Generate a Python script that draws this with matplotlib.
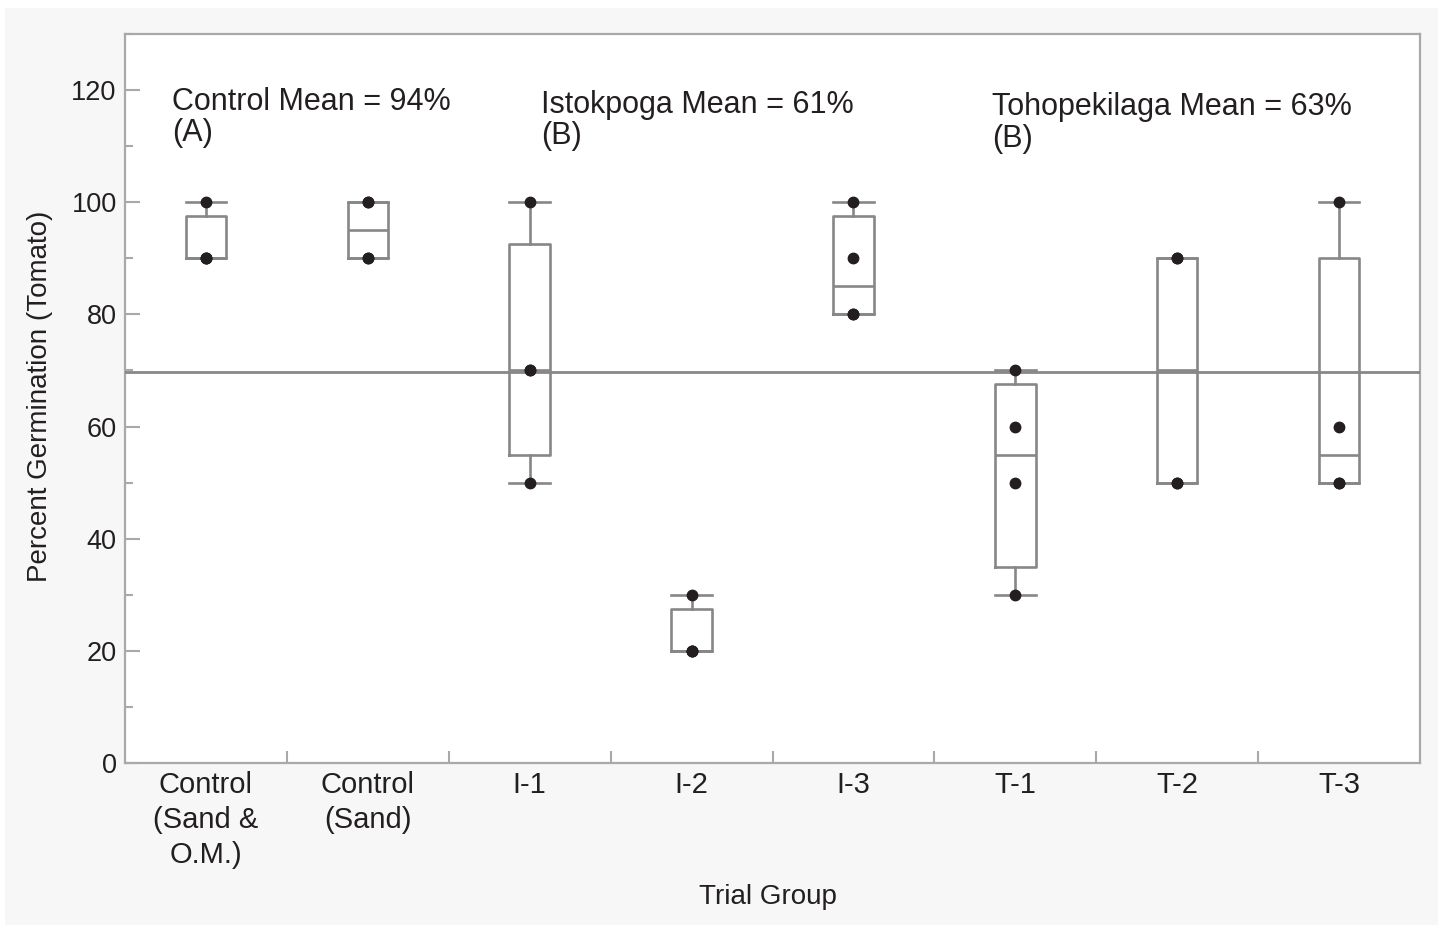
import numpy as np
import matplotlib
matplotlib.use("Agg")
from matplotlib import pyplot as plt
from matplotlib.patches import Rectangle

# germination percentages per trial (4 replicates each)
groups = ["Control\n(Sand &\nO.M.)", "Control\n(Sand)", "I-1", "I-2", "I-3", "T-1", "T-2", "T-3"]
ctrl_om = [90, 90, 90, 100]
ctrl_sand = [90, 90, 100, 100]
i_1 = [50, 70, 70, 100]
i_2 = [20, 20, 20, 30]
i_3 = [80, 80, 90, 100]
t_1 = [30, 50, 60, 70]
t_2 = [50, 50, 90, 90]
t_3 = [50, 50, 60, 100]
data = [ctrl_om, ctrl_sand, i_1, i_2, i_3, t_1, t_2, t_3]

notes = ["Control Mean = 94%\n(A)", "Istokpoga Mean = 61%\n(B)", "Tohopekilaga Mean = 63%\n(B)"]
note_x = [-0.21, 2.07, 4.855]
note_y = [120.6, 120.1, 119.6]

plt.rcParams["font.family"] = ["Liberation Sans", "DejaVu Sans"]
txt = "#231f20"
line_c = "#878787"
spine_c = "#a9a9a9"

fig = plt.figure(figsize=(14.43, 9.27), dpi=100, facecolor="white")
fig.patches.append(Rectangle((0.0035, 0.002), 0.993, 0.989, transform=fig.transFigure,
                             facecolor="#f7f7f7", edgecolor="none", zorder=-10))
ax = fig.add_axes([0.0866, 0.1769, 0.8975, 0.7864])
ax.set_facecolor("white")

# JMP style quartiles
stats = []
for i, d in enumerate(data):
    q1, med, q3 = np.percentile(d, [25, 50, 75], method="weibull")
    stats.append({"med": med, "q1": q1, "q3": q3, "whislo": min(d), "whishi": max(d), "fliers": []})

lp = dict(color=line_c, linewidth=1.9)
ax.bxp(stats, positions=range(len(data)), widths=0.25, capwidths=0.25,
       boxprops=lp, whiskerprops=lp, capprops=lp, medianprops=lp,
       showfliers=False, manage_ticks=False, zorder=2)

for i, d in enumerate(data):
    ax.plot([i] * len(d), d, "o", color=txt, markersize=7.5, zorder=4)

grand = np.mean([np.mean(d) for d in data])
ax.axhline(grand, color=line_c, linewidth=2, zorder=3)

for s, x, y in zip(notes, note_x, note_y):
    ax.text(x, y, s, fontsize=22, color=txt, va="top", ha="left", linespacing=1.07)

ax.set_xlim(-0.5, 7.5)
ax.set_ylim(0, 130)
ax.set_yticks(range(0, 121, 20))
ax.set_yticks(range(10, 131, 20), minor=True)
ax.set_xticks(range(len(groups)))
ax.set_xticklabels(groups, fontsize=21, color=txt, va="top", linespacing=1.31)
ax.set_xticks(np.arange(0.5, 7, 1), minor=True)
ax.tick_params(axis="y", which="major", direction="in", length=11, width=1.5, color=spine_c,
               labelsize=19.5, labelcolor=txt, pad=6)
ax.tick_params(axis="y", which="minor", direction="in", length=6, width=1.5, color=spine_c)
ax.tick_params(axis="x", which="major", length=0, pad=6)
ax.tick_params(axis="x", which="minor", direction="in", length=9, width=1.5, color=spine_c)
for sp in ax.spines.values():
    sp.set_color(spine_c)
    sp.set_linewidth(1.6)

ax.set_ylabel("Percent Germination (Tomato)", fontsize=20, color=txt, va="center")
ax.yaxis.set_label_coords(-0.0655, 0.503)
ax.set_xlabel("Trial Group", fontsize=20, color=txt, va="center")
ax.xaxis.set_label_coords(0.4965, -0.184)

fig.savefig("out.png", dpi=100, facecolor="white")
